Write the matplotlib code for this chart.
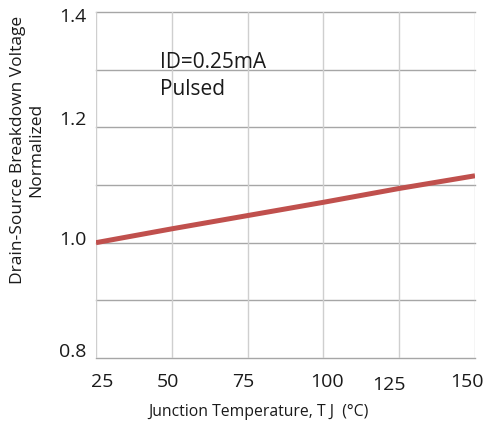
import matplotlib
matplotlib.use("Agg")
import matplotlib.pyplot as plt
from matplotlib.transforms import ScaledTranslation

# ── data ────────────────────────────────────────────────────────────────────
temp_c = [25, 50, 75, 100, 125, 150]
bv_norm = [1.000, 1.024, 1.047, 1.070, 1.094, 1.116]

x_ticks = [25, 50, 75, 100, 125, 150]
y_ticks = [0.8, 1.0, 1.2, 1.4]
y_grid = [0.8, 0.9, 1.0, 1.1, 1.2, 1.3, 1.4]

# the reference's tick labels are not centred on their ticks (pixels, +x right, +y up)
x_label_nudge = [(6, 0), (-4, 0), (-4, 0), (4, 0), (-10, -3), (-8, 0)]
y_label_nudge = [(0, 8), (0, 4.5), (0, 9.5), (0, -3)]

W, H = 487, 425
plt.rcParams['font.family'] = ['Open Sans', 'DejaVu Sans']
TXT = '#1a1a1a'

fig = plt.figure(figsize=(W / 100, H / 100), dpi=100)
ax = fig.add_axes([96 / W, 1 - 358 / H, (475 - 96) / W, (358 - 12) / H])

ax.set_xlim(25, 150)
ax.set_ylim(0.8, 1.4)

# grid
for y in y_grid:
    ax.axhline(y, color='#a6a6a6', linewidth=1.0, zorder=1, clip_on=False)
for x in x_ticks:
    ax.axvline(x, color='#cfcfcf', linewidth=1.0, zorder=1)

ax.plot(temp_c, bv_norm, color='#c0504d', linewidth=3.6, solid_capstyle='butt', zorder=3)

for side in ['top', 'right', 'left', 'bottom']:
    ax.spines[side].set_visible(False)

ax.set_xticks(x_ticks)
ax.set_xticklabels([str(t) for t in x_ticks])
ax.set_yticks(y_ticks)
ax.set_yticklabels([f"{t:.1f}" for t in y_ticks])
ax.tick_params(axis='both', length=0, labelsize=14, colors=TXT)
ax.tick_params(axis='x', pad=11)
ax.tick_params(axis='y', pad=7)

for lab, (dx, dy) in zip(ax.get_xticklabels(), x_label_nudge):
    lab.set_transform(lab.get_transform() + ScaledTranslation(dx / 100, dy / 100, fig.dpi_scale_trans))
for lab, (dx, dy) in zip(ax.get_yticklabels(), y_label_nudge):
    lab.set_transform(lab.get_transform() + ScaledTranslation(dx / 100, dy / 100, fig.dpi_scale_trans))

# axis titles, placed where the reference has them
fig.text(258 / W, 1 - 416 / H, 'Junction Temperature, T J  (°C)', fontsize=11.3,
         ha='center', va='baseline', color=TXT)
fig.text(27 / W, 1 - 150 / H, 'Drain-Source Breakdown Voltage\nNormalized',
         fontsize=12.5, rotation=90, ha='center', va='center',
         multialignment='center', linespacing=1.15, color=TXT)

# annotation
fig.text(160 / W, 1 - 68 / H, 'ID=0.25mA', fontsize=15, ha='left', va='baseline', color=TXT)
fig.text(160 / W, 1 - 95 / H, 'Pulsed', fontsize=15, ha='left', va='baseline', color=TXT)

fig.savefig('out.png', dpi=100)
